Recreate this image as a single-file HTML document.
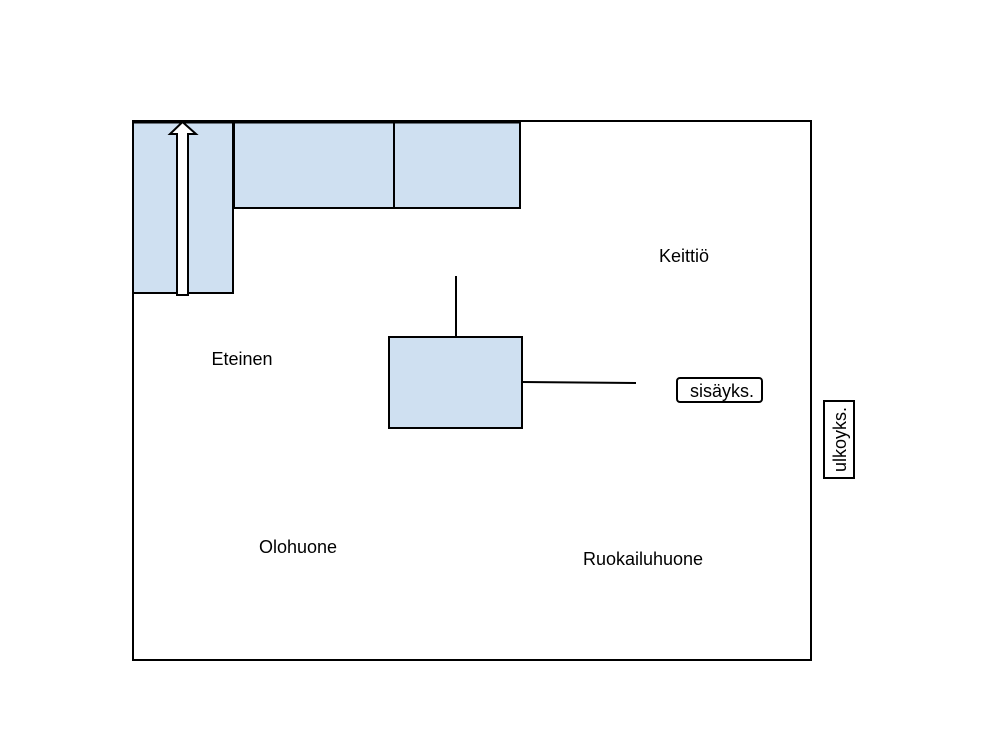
<!DOCTYPE html>
<html><head><style>body{margin:0;background:#fff}</style></head><body>
<svg width="988" height="732" xmlns="http://www.w3.org/2000/svg" font-family="Liberation Sans, sans-serif" font-size="18">
<rect x="0" y="0" width="988" height="732" fill="#fff"/>
<rect x="133" y="121" width="678" height="539" fill="none" stroke="#000" stroke-width="2"/>
<rect x="133" y="122" width="100" height="171" fill="#cfe0f1" stroke="#000" stroke-width="2"/>
<rect x="234" y="122" width="160" height="86" fill="#cfe0f1" stroke="#000" stroke-width="2"/>
<rect x="394" y="122" width="126" height="86" fill="#cfe0f1" stroke="#000" stroke-width="2"/>
<line x1="133" y1="122" x2="520" y2="122" stroke="#000" stroke-width="3"/>
<polygon points="177,295 188,295 188,134 196,134 182.5,122 170,134 177,134" fill="#fff" stroke="#000" stroke-width="2"/>
<rect x="389" y="337" width="133" height="91" fill="#cfe0f1" stroke="#000" stroke-width="2"/>
<line x1="456" y1="276" x2="456" y2="337" stroke="#000" stroke-width="2"/>
<line x1="522" y1="382" x2="636" y2="383" stroke="#000" stroke-width="2"/>
<rect x="677" y="378" width="85" height="24" rx="3" fill="#fff" stroke="#000" stroke-width="2"/>
<text x="722" y="397" text-anchor="middle">sisäyks.</text>
<rect x="824" y="401" width="30" height="77" fill="#fff" stroke="#000" stroke-width="2"/>
<text transform="translate(846,439.5) rotate(-90)" text-anchor="middle">ulkoyks.</text>
<text x="684" y="262" text-anchor="middle">Keittiö</text>
<text x="242" y="365" text-anchor="middle">Eteinen</text>
<text x="298" y="553" text-anchor="middle">Olohuone</text>
<text x="643" y="565" text-anchor="middle">Ruokailuhuone</text>
</svg>
</body></html>
